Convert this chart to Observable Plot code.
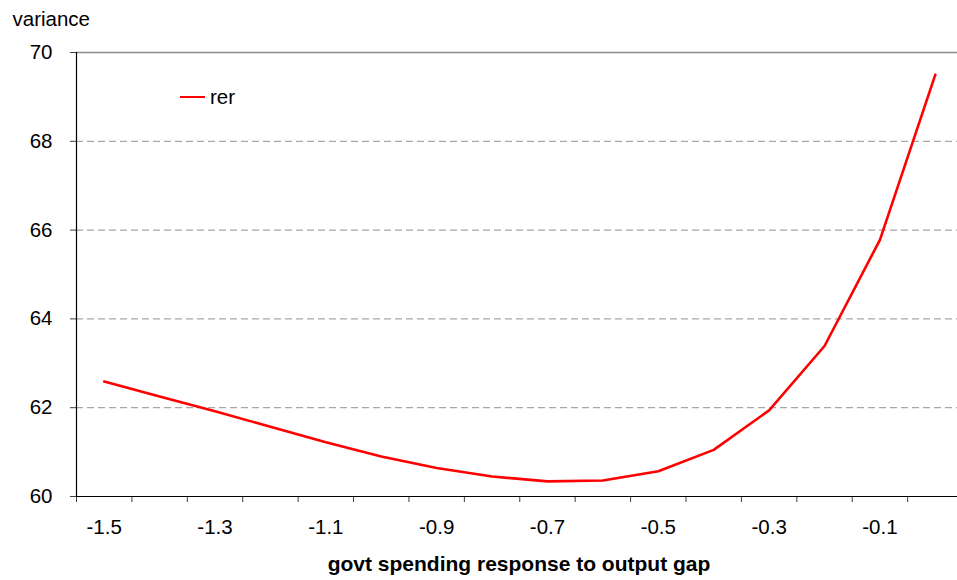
<!DOCTYPE html>
<html>
<head>
<meta charset="utf-8">
<script src="https://cdn.jsdelivr.net/npm/d3@7"></script>
<script src="https://cdn.jsdelivr.net/npm/@observablehq/plot@0.6"></script>
<style>
  html, body { margin: 0; padding: 0; background: #fff; }
  #wrap { position: relative; width: 957px; height: 580px; font-family: "Liberation Sans", Arial, sans-serif; color: #000; }
  .lbl { position: absolute; line-height: 1; white-space: nowrap; }
  #ytitle { left: 12.5px; top: 8.6px; font-size: 20.5px; }
  #legend { left: 180px; top: 86.9px; font-size: 20.5px; }
  #legend .sw { position: absolute; left: 0; top: 9px; width: 25px; height: 0; border-top: 2.5px solid #ff0000; }
  #legend .tx { position: absolute; left: 30px; top: 0; }
  #xtitle { left: 0; width: 1038px; text-align: center; top: 553.2px; font-size: 21px; font-weight: bold; }
  svg { position: absolute; left: 0; top: 0; }
</style>
</head>
<body>
<div id="wrap">
  <div id="chart"></div>
  <div class="lbl" id="ytitle">variance</div>
  <div class="lbl" id="legend"><span class="sw"></span><span class="tx">rer</span></div>
  <div class="lbl" id="xtitle">govt spending response to output gap</div>
</div>
<script>
// Data
const xValues = [-1.5, -1.4, -1.3, -1.2, -1.1, -1.0, -0.9, -0.8, -0.7, -0.6, -0.5, -0.4, -0.3, -0.2, -0.1, 0.0];
const rer = [62.59, 62.25, 61.92, 61.57, 61.22, 60.90, 60.64, 60.45, 60.34, 60.36, 60.57, 61.05, 61.94, 63.39, 65.78, 69.50];
const xLabelValues = [-1.5, -1.3, -1.1, -0.9, -0.7, -0.5, -0.3, -0.1];
const xTickLabels = ["-1.5", "-1.3", "-1.1", "-0.9", "-0.7", "-0.5", "-0.3", "-0.1"];
const yTicks = [60, 62, 64, 66, 68, 70];
const yGrid = [62, 64, 66, 68];
const yTop = [70];

const data = xValues.map((x, i) => ({x, v: rer[i]}));
const xBoundaries = xValues.map(x => Math.round((x - 0.05) * 100) / 100);

const chart = Plot.plot({
  width: 957,
  height: 580,
  marginLeft: 76,
  marginRight: 0,
  marginTop: 52,
  marginBottom: 84,
  style: {fontFamily: "'Liberation Sans', Arial, sans-serif", fontSize: "20.5px", color: "#000", background: "transparent"},
  x: {domain: [-1.55, 0.04]},
  y: {domain: [60, 70]},
  marks: [
    Plot.ruleY(yGrid, {stroke: "#a6a6a6", strokeWidth: 1.3, strokeDasharray: "7,4"}),
    Plot.ruleY(yTop, {stroke: "#8c8c8c", strokeWidth: 1.3}),
    Plot.axisY({ticks: yTicks, tickSize: 6, tickPadding: 18, label: null, stroke: "#404040", tickFormat: d => String(d)}),
    Plot.axisX({ticks: xBoundaries, tickSize: 6, tickFormat: () => "", label: null, stroke: "#404040"}),
    Plot.axisX({ticks: xLabelValues, tickSize: 0, tickPadding: 22.5, label: null, tickFormat: (d) => xTickLabels[xLabelValues.indexOf(d)]}),
    Plot.ruleX([-1.55], {stroke: "#000", strokeWidth: 1.2}),
    Plot.ruleY([60], {stroke: "#000", strokeWidth: 1.2}),
    Plot.line(data, {x: "x", y: "v", stroke: "#ff0000", strokeWidth: 2.6})
  ]
});
document.getElementById("chart").appendChild(chart);
</script>
</body>
</html>
